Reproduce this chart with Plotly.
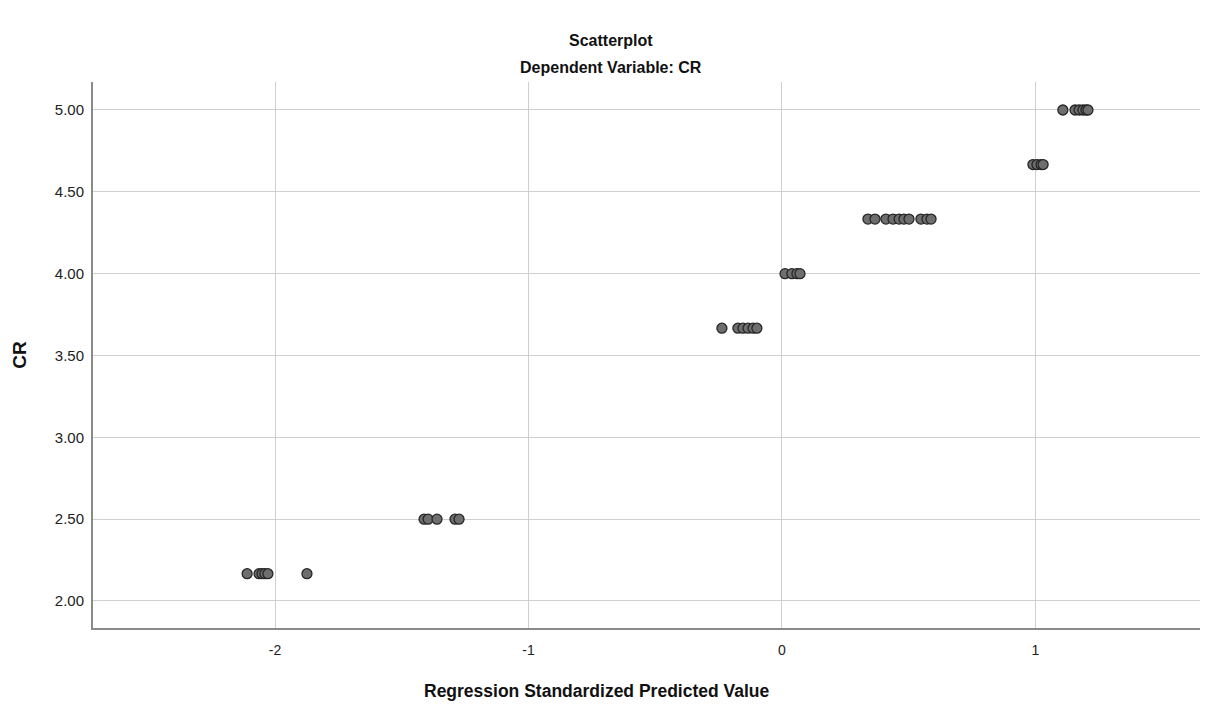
import plotly.graph_objects as go

# Regression standardized predicted values grouped by CR level
x_217 = [-2.11, -2.063, -2.051, -2.04, -2.028, -1.874]
x_250 = [-1.412, -1.396, -1.361, -1.29, -1.274]
x_367 = [-0.237, -0.174, -0.154, -0.134, -0.114, -0.099]
x_400 = [0.012, 0.039, 0.059, 0.071]
x_433 = [0.339, 0.367, 0.41, 0.438, 0.462, 0.481, 0.501, 0.548, 0.572, 0.588]
x_467 = [0.99, 1.006, 1.022, 1.03]
x_500 = [1.108, 1.156, 1.172, 1.187, 1.199, 1.207]

cr_levels = [2.1667, 2.5, 3.6667, 4.0, 4.3333, 4.6667, 5.0]
groups = [x_217, x_250, x_367, x_400, x_433, x_467, x_500]

xs, ys = [], []
for lvl, g in zip(cr_levels, groups):
    xs.extend(g)
    ys.extend([lvl] * len(g))

x_ticks = [-2, -1, 0, 1]
y_ticks = [2.0, 2.5, 3.0, 3.5, 4.0, 4.5, 5.0]

FONT = "Liberation Sans, Arial, sans-serif"

fig = go.Figure()
fig.add_trace(go.Scatter(
    x=xs, y=ys, mode="markers",
    marker=dict(size=10, color="#6e6e6e", line=dict(color="#262626", width=1.3)),
    showlegend=False,
))

fig.update_layout(
    width=1215, height=708,
    margin=dict(l=85, r=23, t=74, b=88),
    paper_bgcolor="white", plot_bgcolor="white",
    font=dict(family=FONT, color="#222222"),
    xaxis=dict(
        range=[-2.718, 1.649], tickvals=x_ticks, ticktext=["-2", "-1", "0", "1"],
        showgrid=True, gridcolor="#cfcfcf", gridwidth=1,
        zeroline=False, showline=True, linecolor="#8a8a8a", linewidth=2,
        tickfont=dict(size=14, family=FONT, color="#222222"), ticks="", ticklen=0,
        ticklabelstandoff=8, automargin=False,
    ),
    yaxis=dict(
        range=[1.835, 5.171], tickvals=y_ticks,
        ticktext=[f"{v:.2f}" for v in y_ticks],
        showgrid=True, gridcolor="#cfcfcf", gridwidth=1,
        zeroline=False, showline=True, linecolor="#8a8a8a", linewidth=2,
        tickfont=dict(size=15, family=FONT, color="#222222"), ticks="",
        ticklabelstandoff=4, automargin=False,
        title=dict(text="<b>CR</b>", font=dict(size=19, family=FONT, color="#111111"), standoff=23),
    ),
    annotations=[
        dict(text="<b>Scatterplot</b>", xref="paper", yref="paper", x=0.468, y=1.0,
             yshift=52, showarrow=False, font=dict(size=16, family=FONT, color="#111111")),
        dict(text="<b>Dependent Variable: CR</b>", xref="paper", yref="paper", x=0.468, y=1.0,
             yshift=25, showarrow=False, font=dict(size=16, family=FONT, color="#111111")),
        dict(text="<b>Regression Standardized Predicted Value</b>", xref="paper", yref="paper",
             x=0.455, y=0, yshift=-75, showarrow=False,
             font=dict(size=17.5, family=FONT, color="#111111")),
    ],
)

fig.write_html("out.html")
